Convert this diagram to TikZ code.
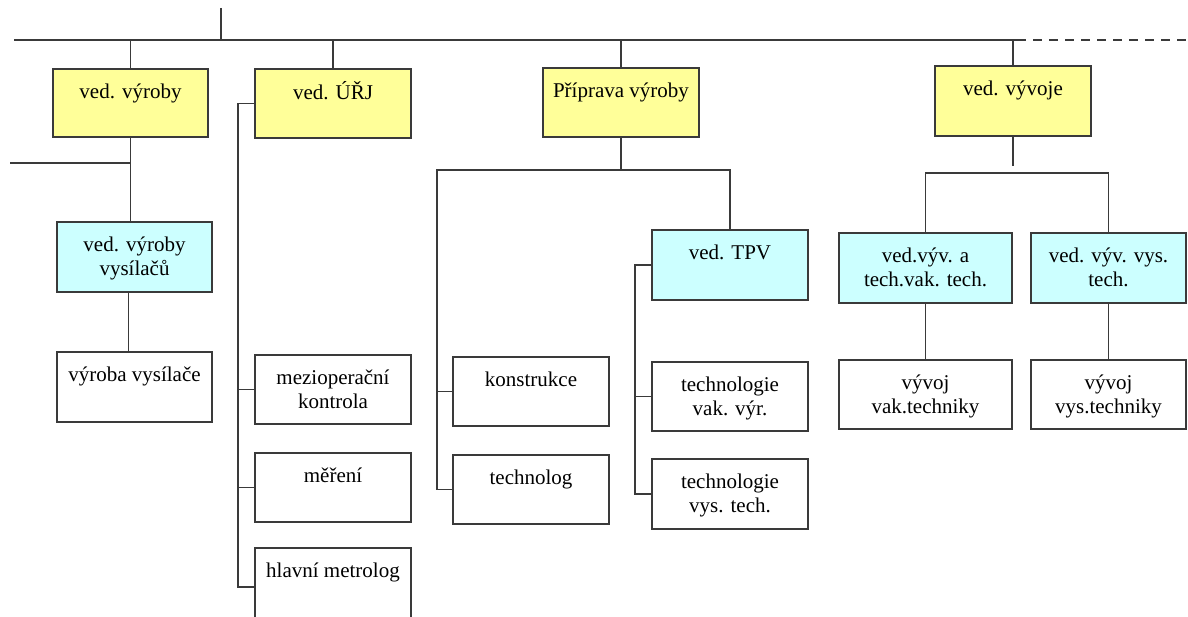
\documentclass[tikz,border=0pt]{standalone}
\usepackage{fontspec}
\setmainfont{Liberation Serif}
\definecolor{boxyellow}{HTML}{FFFF99}
\definecolor{boxcyan}{HTML}{CCFFFF}
\definecolor{linegray}{HTML}{3A3A3A}
\tikzset{
  conn/.style={draw=linegray, line width=1.7pt},
  orgbase/.style={draw=linegray, line width=1.7pt, inner sep=0pt},
  ybox/.style={orgbase, fill=boxyellow},
  cbox/.style={orgbase, fill=boxcyan},
  wbox/.style={orgbase, fill=white},
  lbl/.style={inner sep=0pt, align=center, font=\fontsize{21}{24}\selectfont}
}
\newcommand\orgbox[7]{%
  \node[#6, minimum width={#4-#2}, minimum height={#5-#3}] (#1) at ({(#2+#4)/2},{(#3+#5)/2}) {};
  \node[lbl, anchor=north] (#1-t) at ([yshift=-13.2pt]#1.north) {\strut #7};
}
\begin{document}
\begin{tikzpicture}[x=1pt,y=-1pt]
\useasboundingbox (0,0) rectangle (1188,617);

% boxes
\orgbox{vyr}{53}{69}{208}{137}{ybox}{ved. výroby}
\orgbox{urj}{255}{69}{411}{138}{ybox}{ved. ÚŘJ}
\orgbox{pri}{543}{68}{699}{137}{ybox}{Příprava výroby}
\orgbox{vyv}{935}{66}{1091}{136}{ybox}{ved. vývoje}
\orgbox{vys}{57}{222}{212}{292}{cbox}{ved. výroby\\vysílačů}
\orgbox{vv}{57}{352}{212}{422}{wbox}{výroba vysílače}
\orgbox{mezi}{255}{355}{411}{424}{wbox}{mezioperační\\kontrola}
\orgbox{mer}{255}{453}{411}{522}{wbox}{měření}
\orgbox{hm}{255}{548}{411}{626}{wbox}{hlavní metrolog}
\orgbox{kon}{453}{357}{609}{426}{wbox}{konstrukce}
\orgbox{tech}{453}{455}{609}{524}{wbox}{technolog}
\orgbox{tpv}{652}{230}{808}{300}{cbox}{ved. TPV}
\orgbox{tvak}{652}{362}{808}{431}{wbox}{technologie\\vak. výr.}
\orgbox{tvys}{652}{459}{808}{529}{wbox}{technologie\\vys. tech.}
\orgbox{va}{839}{233}{1012}{303}{cbox}{ved.výv. a\\tech.vak. tech.}
\orgbox{vs}{1031}{233}{1186}{303}{cbox}{ved. výv. vys.\\tech.}
\orgbox{vva}{839}{360}{1012}{429}{wbox}{vývoj\\vak.techniky}
\orgbox{vvs}{1031}{360}{1186}{429}{wbox}{vývoj\\vys.techniky}

% top bus
\coordinate (tl) at (14,40);
\coordinate (tr) at (1017,40);
\coordinate (te) at (1188,40);
\coordinate (stub) at (221,8);
\draw[conn] (tl) -- (tr);
\draw[conn, dash pattern=on 9pt off 7pt] (tr) -- (te);
\draw[conn] (stub) -- (stub |- tl);
\draw[conn] (vyr.north) -- (vyr.north |- tl);
\draw[conn] (urj.north) -- (urj.north |- tl);
\draw[conn] (pri.north) -- (pri.north |- tl);
\draw[conn] (vyv.north) -- (vyv.north |- tl);

% ved. vyroby branch
\coordinate (lf) at (10,163);
\draw[conn] (vyr.south) -- (vyr.south |- vys.north);
\draw[conn] (lf) -- (lf -| vyr.south);
\draw[conn] ([xshift=-6pt]vys.south) -- ([xshift=-6pt]vv.north);

% URJ branch
\coordinate (ub) at (238,0);
\draw[conn] (urj.west) -- (urj.west -| ub) -- (ub |- hm.west) -- (hm.west);
\draw[conn] (mezi.west -| ub) -- (mezi.west);
\draw[conn] (mer.west -| ub) -- (mer.west);

% Priprava branch
\coordinate (pl) at (437,170);
\draw[conn] (pri.south) -- (pri.south |- pl);
\draw[conn] (tech.west) -- (tech.west -| pl) -- (pl) -- (pl -| tpv.north) -- (tpv.north);
\draw[conn] (kon.west -| pl) -- (kon.west);
\coordinate (tb) at (635,0);
\draw[conn] (tpv.west) -- (tpv.west -| tb) -- (tb |- tvys.west) -- (tvys.west);
\draw[conn] (tvak.west -| tb) -- (tvak.west);

% vyvoj branch
\coordinate (vstop) at (0,166);
\coordinate (hb) at (0,173);
\draw[conn] (vyv.south) -- (vyv.south |- vstop);
\draw[conn] (va.north) -- (va.north |- hb) -- (vs.north |- hb) -- (vs.north);
\draw[conn] (va.south) -- (vva.north);
\draw[conn] (vs.south) -- (vvs.north);
\end{tikzpicture}
\end{document}
